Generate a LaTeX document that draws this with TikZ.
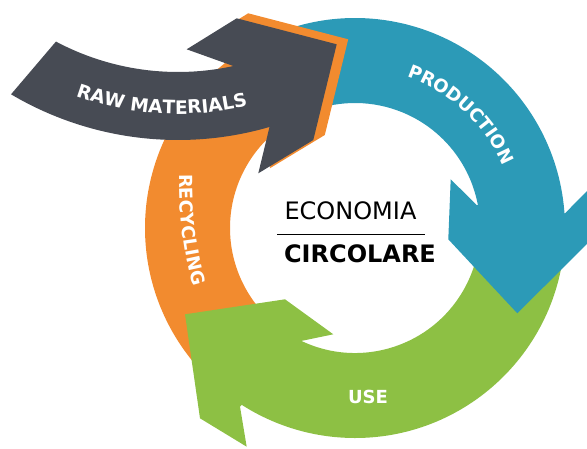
\documentclass[tikz,border=0pt]{standalone}
\usepackage{fontspec}
\setmainfont{DejaVu Sans}
\usetikzlibrary{calc}
\usetikzlibrary{decorations.text}

\definecolor{rawgray}{HTML}{474B54}
\definecolor{recorange}{HTML}{F28B2F}
\definecolor{prodblue}{HTML}{2C9AB7}
\definecolor{usegreen}{HTML}{8DC044}
\newcommand{\lblfont}{\fontsize{18}{18}\selectfont\bfseries}
\newcommand{\headpath}{(232.7,-63.3) -- (186.7,-49.3) -- (236.7,-18.3) -- (336.7,-44.3) -- (313.3,-140) -- (258.3,-173.3) -- (269.3,-126.7) -- cycle}

\begin{document}
\begin{tikzpicture}[x=1pt,y=1pt]
  \tikzset{ringtext/.style = {decorate,decoration={text along path,text align=center,text color=white}}}
  \tikzset{midtext/.style = {inner sep=0pt,font=\fontsize{24}{24}\selectfont}}

  \useasboundingbox (0,0) rectangle (587,-448);
  \coordinate (C) at (355,-228);
  \coordinate (M) at (178,188);

  % ring bodies
  \fill[recorange] ($(C)+(228:210pt)$) arc[start angle=228,end angle=118,radius=210pt]
    -- ($(C)+(118:125pt)$) arc[start angle=118,end angle=228,radius=125pt] -- cycle;
  \fill[prodblue] ($(C)+(110:210pt)$) arc[start angle=110,end angle=2,radius=210pt]
    -- ($(C)+(8:125pt)$) arc[start angle=8,end angle=110,radius=125pt] -- cycle;
  \fill[usegreen] ($(C)+(0:210pt)$) arc[start angle=0,end angle=-125,radius=210pt]
    -- ($(C)+(-118:125pt)$) arc[start angle=-118,end angle=0,radius=125pt] -- cycle;

  % heads
  \fill[prodblue] (476.7,-205) -- (450.7,-179.3) -- (448.3,-239.3) -- (517.3,-313.3)
    -- (594,-237) -- (594,-184) -- (565,-213.3) -- cycle;
  \fill[usegreen] (301,-341) -- (333.3,-334.3) -- (285,-299.3) -- (185,-314.3)
    -- (200,-418.3) -- (246.7,-446.7) -- (240,-406.7) -- cycle;
  \fill[recorange,shift={(11.5,5)}] \headpath;

  % raw materials arrow
  \fill[rawgray] ($(M)+(239.4:328pt)$) -- ($(M)+(242:260pt)$)
    arc[start angle=242,end angle=282.3,radius=260pt]
    -- (186.7,-49.3) -- (236.7,-18.3) -- (336.7,-44.3) -- (313.3,-140) -- (258.3,-173.3)
    -- ($(M)+(286.2:328pt)$) arc[start angle=286.2,end angle=239.4,radius=328pt] -- cycle;

  \path[ringtext,decoration={text={|\fontsize{18.6}{18.6}\selectfont\bfseries|RAW MATERIALS}}]
    ($(M)+(246.6:302pt)$) arc[start angle=246.6,end angle=287,radius=302pt];
  \path[ringtext,decoration={text={|\lblfont|PRODUCTION}}]
    ($(C)+(87:160pt)$) arc[start angle=87,end angle=7,radius=160pt];
  \path[ringtext,decoration={text={|\lblfont|RECYCLING},text align=left}]
    (179.5,-174) .. controls (179.5,-230) and (186,-270) .. (200,-305);
  \node[font=\lblfont,text=white] (use) at (368,-397) {USE};

  \node[midtext] (econ) at (350.5,-211.2) {ECONOMIA};
  \node[midtext,font=\fontsize{24}{24}\selectfont\bfseries] (circ) at (360,-253.3) {CIRCOLARE};
  \coordinate (rulel) at (277,-234);
  \coordinate (ruler) at (425,-234);
  \draw[line width=1pt] (rulel) -- (ruler);
\end{tikzpicture}
\end{document}
